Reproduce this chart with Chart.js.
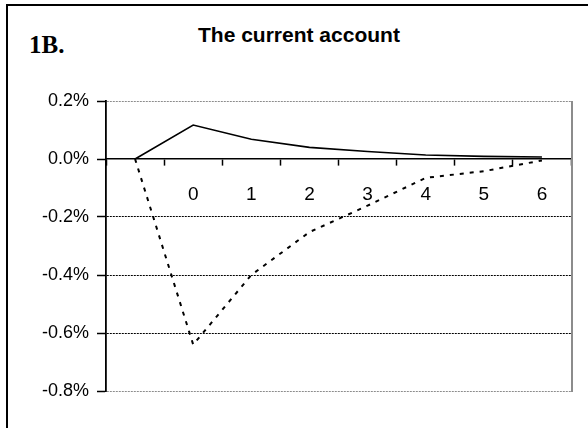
<!DOCTYPE html>
<html>
<head>
<meta charset="utf-8">
<script src="https://cdn.jsdelivr.net/npm/chart.js@4/dist/chart.umd.min.js"></script>
<style>
  html, body { margin: 0; padding: 0; background: #fff; overflow: hidden; }
  #wrap { position: relative; width: 588px; height: 428px; }
  #frame { position: absolute; left: 6px; top: 4px; width: 620px; height: 460px; border: 2px solid #000; }
  #chart { position: absolute; left: 0; top: 0; }
  .lbl { position: absolute; white-space: nowrap; color: #000; }
  #panel { left: 29px; top: 31px; font: bold 25px "Liberation Serif", "Times New Roman", serif; }
  #title { left: 198px; top: 23px; font: bold 21px "Liberation Sans", Arial, sans-serif; }
</style>
</head>
<body>
<div id="wrap">
  <div id="frame"></div>
  <div class="lbl" id="panel">1B.</div>
  <div class="lbl" id="title">The current account</div>
  <canvas id="chart" width="588" height="428"></canvas>
</div>
<script>
// Periods after the shock (first slot is the pre-shock period, unlabelled)
const periods = ['', '0', '1', '2', '3', '4', '5', '6'];
// Current account response, % of GDP
const solidSeries  = [0, 0.117, 0.068, 0.040, 0.026, 0.014, 0.009, 0.007];
const dashedSeries = [0, -0.640, -0.400, -0.252, -0.161, -0.065, -0.042, -0.005];
// Value axis ticks
const yTicks = [-0.8, -0.6, -0.4, -0.2, 0.0, 0.2];

const near = (a, b) => Math.abs(a - b) < 1e-6;

Chart.defaults.font.family = 'Liberation Sans, Arial, sans-serif';
Chart.defaults.font.size = 18;
Chart.defaults.color = '#000';

const plotFrame = {
  id: 'plotFrame',
  afterDraw(chart) {
    const { ctx, chartArea: a } = chart;
    ctx.save();
    ctx.strokeStyle = '#8c8c8c';
    ctx.lineWidth = 2;
    ctx.beginPath();
    ctx.moveTo(a.right + 1, a.top);
    ctx.lineTo(a.right + 1, a.bottom + 1);
    ctx.stroke();
    ctx.restore();
  }
};

new Chart(document.getElementById('chart'), {
  type: 'line',
  data: {
    labels: periods,
    datasets: [
      {
        data: solidSeries,
        borderColor: '#000',
        borderWidth: 1.6,
        pointRadius: 0,
        tension: 0
      },
      {
        data: dashedSeries,
        borderColor: '#000',
        borderWidth: 2,
        borderDash: [4, 6],
        pointRadius: 0,
        tension: 0
      }
    ]
  },
  options: {
    responsive: false,
    animation: false,
    events: [],
    layout: { padding: { left: 0, top: 101, right: 17, bottom: 37 } },
    plugins: { legend: { display: false }, tooltip: { enabled: false }, title: { display: false } },
    scales: {
      x: {
        type: 'category',
        position: { y: 0 },
        offset: true,
        grid: {
          offset: true,
          drawOnChartArea: false,
          drawTicks: true,
          tickLength: 6,
          tickColor: '#000',
          tickWidth: 1.5
        },
        border: { display: true, color: '#000', width: 1.6 },
        ticks: {
          color: '#000',
          padding: 18,
          maxRotation: 0,
          autoSkip: false,
          font: { size: 19 }
        }
      },
      y: {
        min: -0.8,
        max: 0.2,
        afterFit(scale) { scale.width = 106; },
        afterBuildTicks(scale) { scale.ticks = yTicks.map(v => ({ value: v })); },
        grid: {
          drawTicks: true,
          tickLength: 9,
          tickColor: '#000',
          tickWidth: 1.5,
          lineWidth: 1,
          color: ctx => {
            const v = ctx.tick ? ctx.tick.value : 0;
            if (near(v, 0.2) || near(v, -0.8)) return '#8c8c8c';
            if (near(v, 0)) return 'rgba(0,0,0,0)';
            return '#000';
          }
        },
        border: { display: true, color: '#000', width: 1.8, dash: [2, 1] },
        ticks: {
          color: '#000',
          padding: 8,
          font: { size: 18 },
          callback: v => (near(v, 0) ? 0 : v).toFixed(1) + '%'
        }
      }
    }
  },
  plugins: [plotFrame]
});
</script>
</body>
</html>
